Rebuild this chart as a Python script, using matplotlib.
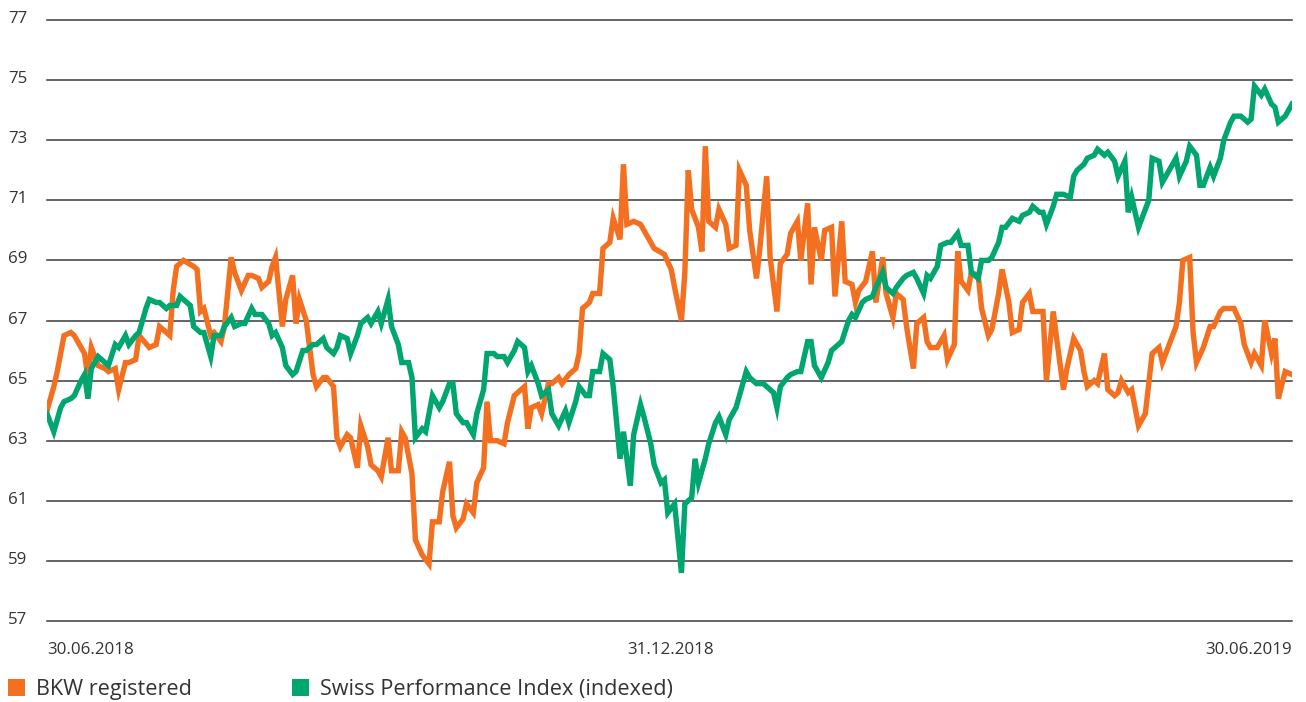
import pandas as pd
import matplotlib
matplotlib.use("Agg")
import matplotlib.pyplot as plt
from matplotlib.patches import Patch
from matplotlib.transforms import ScaledTranslation

plt.rcParams['font.family'] = ['Open Sans', 'DejaVu Sans']

start = pd.Timestamp("2018-06-30")

# BKW registered: calendar day offset from 30.06.2018 and price
bkw_days = [0, 2, 3, 5, 7, 8, 10, 11, 12, 13, 15, 17, 18, 20, 21, 23, 24, 26, 27, 30,
            32, 33, 35, 36, 37, 38, 40, 43, 44, 45, 46, 48, 49, 51, 52, 54, 55, 57, 59, 60,
            62, 63, 65, 66, 67, 69, 70, 72, 73, 74, 76, 78, 79, 81, 82, 84, 85, 86, 88, 89,
            91, 92, 94, 95, 97, 98, 100, 101, 103, 104, 105, 107, 108, 110, 112, 113, 115, 116, 118, 119,
            120, 122, 123, 125, 126, 128, 129, 130, 132, 134, 135, 137, 138, 140, 141, 142, 144, 145, 147, 148,
            150, 151, 153, 155, 156, 157, 159, 160, 162, 163, 165, 166, 168, 169, 170, 172, 174, 175, 177, 178,
            181, 183, 184, 186, 187, 188, 189, 191, 192, 193, 194, 196, 197, 199, 200, 202, 203, 205, 206, 208,
            209, 211, 212, 214, 215, 217, 218, 220, 221, 223, 224, 225, 227, 228, 230, 231, 233, 234, 236, 237,
            238, 240, 242, 243, 245, 246, 248, 249, 251, 252, 254, 255, 257, 258, 259, 261, 263, 264, 266, 267,
            268, 270, 271, 273, 274, 276, 277, 279, 280, 282, 283, 285, 286, 288, 289, 292, 293, 295, 296, 298,
            299, 301, 303, 304, 305, 307, 308, 310, 311, 313, 314, 315, 317, 318, 320, 322, 323, 324, 326, 327,
            329, 331, 332, 333, 335, 336, 337, 339, 341, 342, 344, 345, 348, 350, 351, 353, 354, 356, 357, 359,
            360, 361, 363, 365]
bkw_vals = [64.0, 64.8, 65.3, 66.5, 66.6, 66.5, 66.1, 65.9, 65.1, 66.1, 65.5, 65.4, 65.3, 65.4, 64.7, 65.6, 65.6, 65.7, 66.5, 66.1,
            66.2, 66.8, 66.6, 66.5, 68.0, 68.8, 69.0, 68.8, 68.7, 67.3, 67.4, 66.5, 66.6, 66.3, 66.8, 69.1, 68.6, 68.0, 68.5, 68.5,
            68.4, 68.1, 68.3, 68.8, 69.1, 66.8, 67.7, 68.5, 66.9, 67.7, 67.0, 65.2, 64.8, 65.1, 65.1, 64.8, 63.1, 62.8, 63.2, 63.1,
            62.1, 63.5, 62.8, 62.2, 62.0, 61.8, 63.1, 62.0, 62.0, 63.3, 63.1, 61.9, 59.7, 59.2, 58.9, 60.3, 60.3, 61.3, 62.3, 60.5,
            60.1, 60.4, 60.9, 60.6, 61.6, 62.1, 64.3, 63.0, 63.0, 62.9, 63.6, 64.5, 64.6, 64.8, 63.4, 64.1, 64.2, 63.9, 64.9, 64.9,
            65.1, 64.9, 65.2, 65.4, 65.9, 67.4, 67.6, 67.9, 67.9, 69.4, 69.6, 70.4, 69.7, 72.2, 70.2, 70.3, 70.2, 70.0, 69.6, 69.4,
            69.2, 68.7, 68.1, 67.0, 68.6, 72.0, 70.7, 70.1, 69.3, 72.8, 70.3, 70.1, 70.7, 70.2, 69.4, 69.5, 72.0, 71.5, 70.0, 68.4,
            69.4, 71.8, 69.1, 67.3, 68.9, 69.2, 69.9, 70.3, 69.0, 70.9, 68.2, 70.1, 69.0, 70.0, 70.1, 67.8, 70.3, 68.3, 68.2, 67.6,
            68.0, 68.3, 69.3, 67.6, 69.1, 67.9, 67.1, 67.9, 67.7, 66.8, 65.4, 66.9, 67.1, 66.3, 66.1, 66.1, 66.5, 65.7, 66.2, 69.3,
            68.3, 68.0, 68.6, 68.5, 67.4, 66.5, 66.7, 67.9, 68.7, 67.6, 66.6, 66.7, 67.6, 67.9, 67.3, 67.3, 65.0, 67.3, 66.4, 64.7,
            65.4, 66.4, 66.0, 65.3, 64.8, 65.0, 64.9, 65.9, 64.7, 64.5, 64.6, 65.0, 64.6, 64.7, 63.5, 63.9, 64.9, 65.9, 66.1, 65.6,
            66.2, 66.8, 67.6, 69.0, 69.1, 66.6, 65.6, 66.1, 66.8, 66.8, 67.3, 67.4, 67.4, 66.9, 66.2, 65.6, 65.9, 65.5, 67.0, 65.9,
            66.4, 64.4, 65.3, 65.2]

# Swiss Performance Index (indexed)
spi_days = [0, 2, 4, 5, 7, 8, 10, 11, 12, 13, 15, 17, 18, 20, 21, 23, 24, 26, 27, 29,
            30, 32, 33, 35, 36, 38, 39, 40, 42, 43, 45, 46, 48, 49, 51, 52, 54, 55, 57, 58,
            60, 61, 63, 65, 66, 67, 69, 70, 72, 73, 75, 76, 78, 79, 81, 82, 84, 85, 86, 88,
            89, 91, 92, 94, 95, 97, 98, 100, 101, 103, 104, 106, 107, 108, 110, 111, 113, 115, 116, 118,
            119, 120, 122, 123, 125, 126, 128, 129, 131, 132, 134, 135, 137, 138, 140, 141, 142, 144, 145, 147,
            148, 150, 152, 153, 155, 156, 158, 159, 160, 162, 163, 165, 166, 168, 169, 171, 172, 174, 175, 177,
            178, 180, 181, 182, 184, 186, 187, 189, 190, 191, 193, 194, 196, 197, 199, 200, 202, 203, 205, 206,
            208, 210, 211, 213, 214, 215, 217, 218, 220, 221, 223, 224, 225, 227, 229, 230, 232, 233, 235, 236,
            237, 239, 240, 242, 243, 245, 246, 248, 249, 251, 252, 254, 255, 257, 258, 259, 261, 262, 264, 265,
            267, 268, 270, 271, 273, 274, 276, 277, 279, 280, 281, 283, 285, 286, 288, 289, 291, 292, 293, 295,
            296, 298, 300, 301, 302, 304, 305, 307, 308, 310, 311, 313, 314, 316, 317, 318, 320, 321, 323, 324,
            326, 327, 329, 331, 332, 334, 335, 337, 338, 339, 341, 342, 344, 345, 347, 348, 350, 352, 353, 354,
            356, 357, 359, 360, 361, 363, 365]
spi_vals = [63.9, 63.3, 64.1, 64.3, 64.4, 64.5, 65.0, 65.2, 64.4, 65.4, 65.8, 65.6, 65.5, 66.2, 66.1, 66.5, 66.2, 66.5, 66.6, 67.4,
            67.7, 67.6, 67.6, 67.4, 67.5, 67.5, 67.8, 67.7, 67.5, 66.8, 66.6, 66.6, 65.8, 66.5, 66.5, 66.8, 67.1, 66.8, 66.9, 66.9,
            67.4, 67.2, 67.2, 66.9, 66.5, 66.6, 66.1, 65.5, 65.2, 65.3, 66.0, 66.0, 66.2, 66.2, 66.4, 66.1, 65.9, 66.1, 66.5, 66.4,
            65.9, 66.5, 66.9, 67.1, 66.9, 67.3, 66.9, 67.7, 66.8, 66.2, 65.6, 65.6, 65.1, 63.1, 63.4, 63.3, 64.5, 64.1, 64.3, 64.9,
            64.9, 63.9, 63.6, 63.6, 63.2, 63.9, 64.7, 65.9, 65.9, 65.8, 65.8, 65.6, 66.0, 66.3, 66.1, 65.3, 65.5, 64.9, 64.5, 64.7,
            63.9, 63.5, 64.0, 63.6, 64.3, 64.8, 64.5, 64.5, 65.3, 65.3, 65.9, 65.7, 64.8, 62.4, 63.3, 61.5, 63.2, 64.2, 63.8, 62.9,
            62.2, 61.6, 61.7, 60.6, 60.9, 58.6, 60.9, 61.1, 62.4, 61.6, 62.4, 62.9, 63.6, 63.8, 63.2, 63.7, 64.1, 64.5, 65.3, 65.1,
            64.9, 64.9, 64.8, 64.6, 64.1, 64.8, 65.1, 65.2, 65.3, 65.3, 66.3, 66.3, 65.5, 65.1, 65.6, 66.0, 66.2, 66.3, 67.0, 67.2,
            67.1, 67.6, 67.7, 67.8, 68.1, 68.6, 68.1, 67.9, 68.1, 68.4, 68.5, 68.6, 68.4, 67.9, 68.5, 68.4, 68.8, 69.5, 69.6, 69.6,
            69.9, 69.5, 69.5, 68.6, 68.4, 69.0, 69.0, 69.1, 69.6, 70.1, 70.1, 70.4, 70.3, 70.5, 70.6, 70.8, 70.6, 70.6, 70.2, 70.8,
            71.2, 71.2, 71.1, 71.8, 72.0, 72.2, 72.4, 72.5, 72.7, 72.5, 72.6, 72.3, 71.8, 72.3, 70.6, 71.1, 70.1, 70.4, 71.0, 72.4,
            72.3, 71.6, 72.0, 72.4, 71.8, 72.3, 72.8, 72.5, 71.5, 71.5, 72.1, 71.8, 72.4, 73.0, 73.6, 73.8, 73.8, 73.6, 73.7, 74.8,
            74.5, 74.7, 74.2, 74.1, 73.6, 73.8, 74.2]

y_ticks = [57, 59, 61, 63, 65, 67, 69, 71, 73, 75, 77]
x_ticks = ["2018-06-30", "2018-12-31", "2019-06-30"]
x_labels = ["30.06.2018", "31.12.2018", "30.06.2019"]
series_names = ["BKW registered", "Swiss Performance Index (indexed)"]

orange = "#F37021"
green = "#00A56F"
txt = "#333333"

bkw_dates = start + pd.to_timedelta(bkw_days, unit="D")
spi_dates = start + pd.to_timedelta(spi_days, unit="D")

fig = plt.figure(figsize=(13.06, 7.02), dpi=100)
ax = fig.add_axes([47/1306, 1 - 621/702, (1292 - 47)/1306, (621 - 20)/702])

ax.plot(bkw_dates, bkw_vals, color=orange, lw=3.9, solid_joinstyle="miter", zorder=3)
ax.plot(spi_dates, spi_vals, color=green, lw=3.9, solid_joinstyle="miter", zorder=4)

ax.set_xlim(pd.Timestamp(x_ticks[0]), pd.Timestamp(x_ticks[-1]))
ax.set_ylim(57, 77)
ax.set_yticks(y_ticks)
ax.set_xticks(pd.to_datetime(x_ticks))
ax.set_xticklabels(x_labels)
for s in ax.spines.values():
    s.set_visible(False)
ax.grid(axis="y", color="#3a3a3a", lw=1.1)
ax.grid(axis="x", visible=False)
for gl in ax.get_ygridlines():
    gl.set_clip_on(False)
ax.tick_params(axis="y", length=0, pad=14, labelsize=12.2, labelcolor=txt)
ax.tick_params(axis="x", length=0, pad=15, labelsize=12.2, labelcolor=txt)
for lab in ax.get_yticklabels():
    lab.set_transform(lab.get_transform() + ScaledTranslation(0, 3/100, fig.dpi_scale_trans))
xl = ax.get_xticklabels()
xl[0].set_ha("left")
xl[-1].set_ha("right")
xl[1].set_transform(xl[1].get_transform() + ScaledTranslation(-4/100, 0, fig.dpi_scale_trans))

handles = [Patch(facecolor=orange, edgecolor="none"), Patch(facecolor=green, edgecolor="none")]
fig.legend(handles, series_names, loc="lower left", bbox_to_anchor=(8/1306, 2/702),
           ncol=2, frameon=False, fontsize=15.6, handlelength=0.8, handleheight=0.8,
           handletextpad=0.5, columnspacing=4.6, borderpad=0, borderaxespad=0,
           labelcolor=txt)

fig.savefig("out.png", dpi=100)
